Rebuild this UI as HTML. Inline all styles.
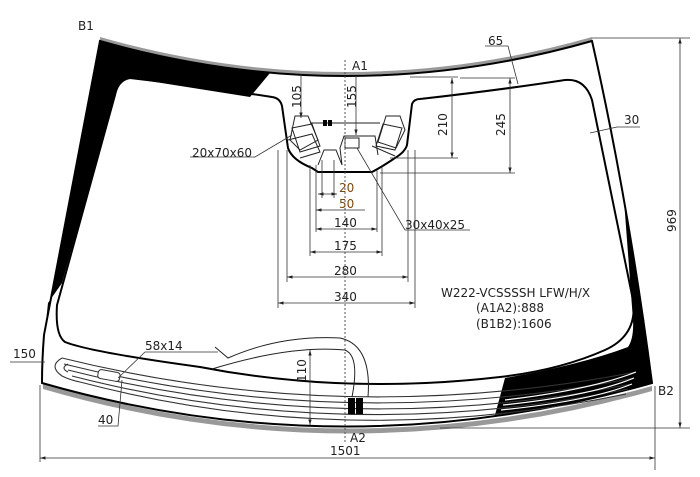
<!DOCTYPE html>
<html><head><meta charset="utf-8"><style>
html,body{margin:0;padding:0;background:#fff}
svg{display:block}
text{font-family:"DejaVu Sans","Liberation Sans",sans-serif;font-size:12px;fill:#222}
</style></head><body>
<svg width="700" height="477" viewBox="0 0 700 477" xmlns="http://www.w3.org/2000/svg">
<defs>
<marker id="a" viewBox="0 0 10 10" refX="10" refY="5" markerWidth="7" markerHeight="7" orient="auto-start-reverse"><path d="M0,2 L10,5 L0,8 z" fill="#222"/></marker>
</defs>
<path d="M100,37 Q346,107 592,37 L592,42 Q346,112 100,42 Z" fill="#999"/>
<path d="M43,384 Q345,472 652,386 L652,391 Q345,477 43,389 Z" fill="#999"/>
<path d="M100,41 Q346,111 592,41 Q628,200 652,383 Q345,470 42,383 Q42,360 44,335 Z" fill="#fff" stroke="#000" stroke-width="2"/>
<path d="M100,41 Q190,66 270,73 L250,97 L130,78 Q118,80 115,95 L62,283 L48,303 L46,322 L44,335 Z" fill="#000"/>
<path d="M624,200 Q642,300 652,383 Q580,405 495,415 L505,378 Q580,365 628,347 Q634,338 633,320 Z" fill="#000"/>
<path d="M130,78 Q200,86 272,97 Q280,98 282,106 L288,148 Q292,160 312,168 L318,172 L372,172 Q380,168 395,158 Q405,152 407,145 L412,104 Q414,99 420,99 Q500,90 565,80 Q585,78 592,100 L633,300 Q638,335 605,350 Q560,370 500,377 Q345,395 200,367 Q90,352 65,342 Q55,335 57,305 L115,95 Q118,80 130,78 Z" fill="none" stroke="#000" stroke-width="2"/>
<g fill="none" stroke="#333" stroke-width="1.1">
<path d="M62,358 Q345,428 636,372"/>
<path d="M64,364 Q345,434 634,378"/>
<path d="M68,370 Q345,440 632,384"/>
<path d="M72,376 Q345,446 628,389"/>
<path d="M62,358 Q48,366 62,376 Q70,380 80,382 Q345,452 626,394"/>
<path d="M68,364 Q60,368 68,372"/>
</g>
<g fill="none" stroke="#fff" stroke-width="1.2">
<path d="M505,400 Q590,390 636,372"/>
<path d="M503,405 Q590,396 634,378"/>
<path d="M501,410 Q590,401 632,384"/>
</g>
<rect x="98" y="371" width="22" height="9" rx="3" fill="#fff" stroke="#333" transform="rotate(10 109 375)"/>
<path d="M215,347 L228,358 Q280,335 340,338 Q372,345 368,397" fill="none" stroke="#222"/>
<path d="M212,369 Q290,345 345,350 Q360,356 352,397" fill="none" stroke="#222"/>
<rect x="348" y="398" width="7" height="16" fill="#000"/><rect x="356" y="398" width="7" height="16" fill="#000"/>
<g fill="none" stroke="#222" stroke-width="1">
<path d="M295,116 L308,116 L318,140 L300,150 L290,140 Z"/>
<path d="M292,128 L312,124 L320,146 L300,152 Z"/>
<path d="M288,140 L312,134 L320,152 L300,158"/>
<path d="M386,116 L400,116 L405,130 L396,148 L378,142 Z"/>
<path d="M383,124 L402,128 L395,150 L376,146 Z"/>
<path d="M372,146 L395,156"/>
<path d="M318,165 L324,150 L336,150 L342,165 L340,148 L344,136 L375,136 L378,155"/>
<rect x="345" y="138" width="14" height="10" fill="#fff"/>
<path d="M310,123 L380,123"/>
</g>
<rect x="323" y="120" width="4" height="6" fill="#000"/><rect x="328" y="120" width="4" height="6" fill="#000"/>
<path d="M345,60 L345,442" stroke="#555" stroke-dasharray="2,2" stroke-width="1"/>
<g stroke="#333" stroke-width="0.8" fill="none">
<line x1="40" y1="385" x2="40" y2="462"/><line x1="655" y1="386" x2="655" y2="470"/>
<line x1="40" y1="458" x2="655" y2="458" marker-start="url(#a)" marker-end="url(#a)"/>
<line x1="592" y1="38" x2="690" y2="38"/><line x1="440" y1="428" x2="690" y2="428"/>
<line x1="680" y1="38" x2="680" y2="428" marker-start="url(#a)" marker-end="url(#a)"/>
<line x1="301" y1="74" x2="301" y2="118" marker-end="url(#a)"/>
<line x1="356" y1="76" x2="356" y2="135" marker-end="url(#a)"/>
<line x1="410" y1="77" x2="458" y2="77"/><line x1="390" y1="158" x2="458" y2="158"/>
<line x1="452" y1="78" x2="452" y2="158" marker-start="url(#a)" marker-end="url(#a)"/>
<line x1="460" y1="78" x2="515" y2="78"/><line x1="380" y1="173" x2="515" y2="173"/>
<line x1="510" y1="78" x2="510" y2="173" marker-start="url(#a)" marker-end="url(#a)"/>
<path d="M485,46 L508,46 L518,84"/>
<path d="M590,133 L617,127 L640,127"/>
<line x1="278" y1="150" x2="278" y2="308"/><line x1="415" y1="150" x2="415" y2="308"/>
<line x1="287" y1="150" x2="287" y2="282"/><line x1="408" y1="150" x2="408" y2="282"/>
<line x1="310" y1="165" x2="310" y2="256"/><line x1="382" y1="165" x2="382" y2="256"/>
<line x1="316" y1="165" x2="316" y2="232"/><line x1="377" y1="170" x2="377" y2="232"/>
<line x1="322" y1="160" x2="322" y2="198"/><line x1="334" y1="160" x2="334" y2="198"/>
<line x1="278" y1="303" x2="415" y2="303" marker-start="url(#a)" marker-end="url(#a)"/>
<line x1="287" y1="277" x2="408" y2="277" marker-start="url(#a)" marker-end="url(#a)"/>
<line x1="310" y1="252" x2="382" y2="252" marker-start="url(#a)" marker-end="url(#a)"/>
<line x1="316" y1="229" x2="377" y2="229" marker-start="url(#a)" marker-end="url(#a)"/>
<line x1="316" y1="210" x2="365" y2="210" marker-start="url(#a)"/>
<line x1="318" y1="194" x2="337" y2="194" marker-start="url(#a)" marker-end="url(#a)"/>
<path d="M357,148 L405,230 L470,230"/>
<path d="M190,157 L255,157 L292,135"/>
<path d="M10,362 L45,362"/>
<path d="M218,352 L145,352 L118,378"/>
<path d="M98,426 L118,426 L122,380"/>
<line x1="310" y1="350" x2="310" y2="425" marker-start="url(#a)" marker-end="url(#a)"/>
</g>
<text x="78" y="30">B1</text>
<text x="658" y="395">B2</text>
<text x="352" y="70">A1</text>
<text x="350" y="442">A2</text>
<text x="330" y="455">1501</text>
<text x="488" y="45">65</text>
<text x="624" y="124">30</text>
<text x="192" y="157">20x70x60</text>
<text x="405" y="229">30x40x25</text>
<text x="339" y="192" style="fill:#7a4a10">20</text>
<text x="339" y="208" style="fill:#7a4a10">50</text>
<text x="334" y="227">140</text>
<text x="334" y="250">175</text>
<text x="334" y="275">280</text>
<text x="334" y="301">340</text>
<text x="13" y="358">150</text>
<text x="145" y="350">58x14</text>
<text x="98" y="424">40</text>
<text x="441" y="297">W222-VCSSSSH LFW/H/X</text>
<text x="476" y="312">(A1A2):888</text>
<text x="476" y="328">(B1B2):1606</text>
<text transform="translate(301,108) rotate(-90)">105</text>
<text transform="translate(356,108) rotate(-90)">155</text>
<text transform="translate(447,136) rotate(-90)">210</text>
<text transform="translate(505,136) rotate(-90)">245</text>
<text transform="translate(676,232) rotate(-90)">969</text>
<text transform="translate(306,382) rotate(-90)">110</text>
</svg>
</body></html>
